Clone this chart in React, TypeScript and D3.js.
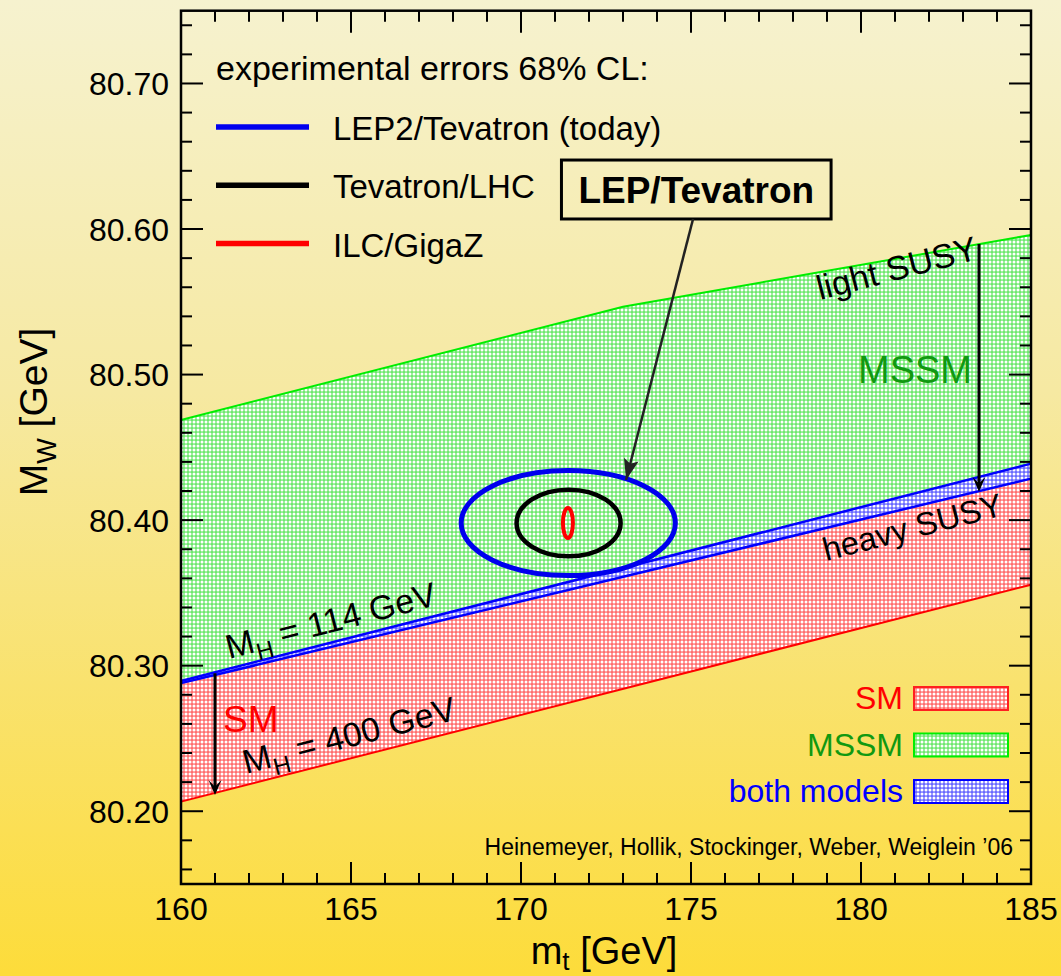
import React from 'react';
import * as d3 from 'd3';

// ---------- data ----------
const X_DOMAIN = [160, 185];
const Y_DOMAIN = [80.15, 80.75];
const X_MAJOR = [160, 165, 170, 175, 180, 185];
const X_MINOR = [161, 162, 163, 164, 166, 167, 168, 169, 171, 172, 173, 174, 176, 177, 178, 179, 181, 182, 183, 184];
const Y_MAJOR = [80.2, 80.3, 80.4, 80.5, 80.6, 80.7];
const Y_MINOR = [80.16, 80.18, 80.22, 80.24, 80.26, 80.28, 80.32, 80.34, 80.36, 80.38, 80.42, 80.44, 80.46, 80.48, 80.52, 80.54, 80.56, 80.58, 80.62, 80.64, 80.66, 80.68, 80.72, 80.74];

// band boundaries (m_t in GeV, M_W in GeV)
const BAND_MT = [160, 185];
const SM_LOW_MW = [80.2066, 80.3556];   // SM, M_H = 400 GeV
const SM_HIGH_MW = [80.2895, 80.4388];  // SM, M_H = 114 GeV
const MSSM_LOW_MW = [80.2880, 80.4285]; // MSSM, heavy SUSY
const MSSM_HIGH_MT = [160, 173, 185];
const MSSM_HIGH_MW = [80.4688, 80.5466, 80.5959]; // MSSM, light SUSY

// experimental 68% CL ellipses
const ELL_NAMES = ['LEP2/Tevatron (today)', 'Tevatron/LHC', 'ILC/GigaZ'];
const ELL_CENTER_MT = [171.39, 171.40, 171.38];
const ELL_CENTER_MW = [80.398, 80.398, 80.398];
const ELL_SIGMA_MT = [3.15, 1.53, 0.147];
const ELL_SIGMA_MW = [0.0361, 0.0229, 0.0103];
const ELL_COLORS = ['#0000ee', '#000000', '#ff0000'];
const ELL_WIDTHS = [5, 4.5, 4];

const MODEL_NAMES = ['SM', 'MSSM', 'both models'];
const MODEL_TEXT_COLORS = ['#ff0000', '#119911', '#0000ff'];
const MODEL_EDGE_COLORS = ['#ff2020', '#00ee00', '#0000ff'];
const MODEL_PATTERNS = ['pRed', 'pGreen', 'pBlue'];

const FONT = "'Liberation Sans', Arial, Helvetica, sans-serif";

type P = [number, number];

export default function App() {
  const x = d3.scaleLinear().domain(X_DOMAIN).range([181, 1031]);
  const y = d3.scaleLinear().domain(Y_DOMAIN).range([884, 10.7]);
  const line = d3.line<P>().x(d => x(d[0])).y(d => y(d[1]));

  const pts = (mt: number[], mw: number[]): P[] => mt.map((m, i) => [m, mw[i]] as P);
  const smLow = pts(BAND_MT, SM_LOW_MW);
  const smHigh = pts(BAND_MT, SM_HIGH_MW);
  const mssmLow = pts(BAND_MT, MSSM_LOW_MW);
  const mssmHigh = pts(MSSM_HIGH_MT, MSSM_HIGH_MW);

  const poly = (top: P[], bottom: P[]) => line([...top, ...bottom.slice().reverse()]) + 'Z';

  const x0 = x(X_DOMAIN[0]), x1 = x(X_DOMAIN[1]);
  const yTop = y(Y_DOMAIN[1]), yBot = y(Y_DOMAIN[0]);

  const arrowHead = (fx: number, fy: number, tx: number, ty: number, len: number, half: number, notch: number, color: string) => {
    const a = Math.atan2(ty - fy, tx - fx);
    const ux = Math.cos(a), uy = Math.sin(a);
    const px = -uy, py = ux;
    const bx = tx - ux * len, by = ty - uy * len;
    const nx = tx - ux * len * notch, ny = ty - uy * len * notch;
    const d = `M${tx},${ty}L${bx + px * half},${by + py * half}L${nx},${ny}L${bx - px * half},${by - py * half}Z`;
    return <path d={d} fill={color} />;
  };

  // annotation anchors (data coordinates)
  const lepFrom: P = [175.06, 80.6069];
  const lepTo: P = [173.09, 80.4276];
  const susyFrom: P = [183.47, 80.5897];
  const susyTo: P = [183.47, 80.4195];
  const smFrom: P = [161.0, 80.2948];
  const smTo: P = [161.0, 80.2112];

  const rot = -14.5;

  return (
    <div style={{ position: 'absolute', left: 0, top: 0 }}>
      <svg width={1061} height={976} style={{ display: 'block' }} fontFamily={FONT}>
        <defs>
          <linearGradient id="bg" x1="0" y1="0" x2="0" y2="1">
            <stop offset="0" stopColor="#f6f2cf" />
            <stop offset="0.4" stopColor="#f6e9a2" />
            <stop offset="0.7" stopColor="#f9e26e" />
            <stop offset="1" stopColor="#fddc3a" />
          </linearGradient>
          <pattern id="pGreen" width="4" height="4" patternUnits="userSpaceOnUse">
            <rect width="4" height="4" fill="rgb(110,232,110)" />
            <circle cx="2" cy="2" r="1.5" fill="#ffffff" />
          </pattern>
          <pattern id="pRed" width="4" height="4" patternUnits="userSpaceOnUse">
            <rect width="4" height="4" fill="rgb(255,110,110)" />
            <circle cx="2" cy="2" r="1.5" fill="#ffffff" />
          </pattern>
          <pattern id="pBlue" width="4" height="4" patternUnits="userSpaceOnUse">
            <rect width="4" height="4" fill="rgb(105,105,255)" />
            <circle cx="2" cy="2" r="1.5" fill="#ffffff" />
          </pattern>
        </defs>
        <rect x={0} y={0} width={1061} height={976} fill="url(#bg)" />

        {/* bands */}
        <path d={poly(mssmLow, smLow)} fill="url(#pRed)" />
        <path d={poly(mssmHigh, smHigh)} fill="url(#pGreen)" />
        <path d={poly(smHigh, mssmLow)} fill="url(#pBlue)" />
        <path d={line(smLow)!} fill="none" stroke="#ff0000" strokeWidth={2} />
        <path d={line(mssmHigh)!} fill="none" stroke="#00ee00" strokeWidth={2} />
        <path d={line(mssmLow)!} fill="none" stroke="#0000ff" strokeWidth={2.5} />
        <path d={line(smHigh)!} fill="none" stroke="#0000ff" strokeWidth={2.5} />

        {/* ellipses */}
        {ELL_NAMES.map((n, i) => (
          <ellipse key={n}
            cx={x(ELL_CENTER_MT[i])} cy={y(ELL_CENTER_MW[i])}
            rx={x(ELL_CENTER_MT[i] + ELL_SIGMA_MT[i]) - x(ELL_CENTER_MT[i])}
            ry={y(ELL_CENTER_MW[i]) - y(ELL_CENTER_MW[i] + ELL_SIGMA_MW[i])}
            fill="none" stroke={ELL_COLORS[i]} strokeWidth={ELL_WIDTHS[i]} />
        ))}

        {/* experimental legend */}
        <text x={216} y={80} fontSize={34} fill="#000">experimental errors 68% CL:</text>
        {ELL_NAMES.map((n, i) => (
          <g key={n}>
            <line x1={216} x2={309} y1={127 + i * 58.3} y2={127 + i * 58.3} stroke={ELL_COLORS[i]} strokeWidth={5.5} />
            <text x={333} y={140 + i * 58.3} fontSize={33} fill="#000">{n}</text>
          </g>
        ))}

        {/* LEP/Tevatron box + arrow */}
        <rect x={x(171.19)} y={y(80.6474)} width={x(179.12) - x(171.19)} height={y(80.6069) - y(80.6474)}
          fill="none" stroke="#000" strokeWidth={3} />
        <text x={(x(171.19) + x(179.12)) / 2} y={203} fontSize={37} fontWeight="bold" textAnchor="middle" fill="#000">LEP/Tevatron</text>
        <line x1={x(lepFrom[0])} y1={y(lepFrom[1])} x2={x(lepTo[0])} y2={y(lepTo[1])} stroke="#222" strokeWidth={2.5} />
        {arrowHead(x(lepFrom[0]), y(lepFrom[1]), x(lepTo[0]), y(lepTo[1]), 21, 7.5, 0.8, '#222')}

        {/* SUSY arrow */}
        <line x1={x(susyFrom[0])} y1={y(susyFrom[1])} x2={x(susyTo[0])} y2={y(susyTo[1]) - 4} stroke="#000" strokeWidth={3} />
        {arrowHead(x(susyFrom[0]), y(susyFrom[1]), x(susyTo[0]), y(susyTo[1]), 15, 6.5, 0.55, '#000')}
        {/* SM arrow */}
        <line x1={x(smFrom[0])} y1={y(smFrom[1])} x2={x(smTo[0])} y2={y(smTo[1]) - 4} stroke="#000" strokeWidth={3} />
        {arrowHead(x(smFrom[0]), y(smFrom[1]), x(smTo[0]), y(smTo[1]), 15, 6.5, 0.55, '#000')}

        {/* band labels */}
        <text transform={`translate(820,300) rotate(${rot})`} fontSize={34} fill="#000">light SUSY</text>
        <text transform={`translate(826,561) rotate(${rot})`} fontSize={32.5} fill="#000">heavy SUSY</text>
        <text x={858} y={383} fontSize={38} fill="#119911">MSSM</text>
        <text x={223} y={732} fontSize={37} fill="#ff0000">SM</text>
        <text transform={`translate(229,659) rotate(${rot})`} fontSize={34} fill="#000">
          <tspan>M</tspan><tspan dy={9} fontSize={24}>H</tspan><tspan dy={-9}> = 114 GeV</tspan>
        </text>
        <text transform={`translate(246,774) rotate(${rot})`} fontSize={34} fill="#000">
          <tspan>M</tspan><tspan dy={9} fontSize={24}>H</tspan><tspan dy={-9}> = 400 GeV</tspan>
        </text>

        {/* model legend */}
        {MODEL_NAMES.map((n, i) => (
          <g key={n}>
            <text x={903} y={709 + i * 46.5} fontSize={32} textAnchor="end" fill={MODEL_TEXT_COLORS[i]}>{n}</text>
            <rect x={914} y={687 + i * 46.5} width={94} height={23} fill={`url(#${MODEL_PATTERNS[i]})`}
              stroke={MODEL_EDGE_COLORS[i]} strokeWidth={2} />
          </g>
        ))}
        <text x={1013} y={855} fontSize={23} textAnchor="end" fill="#000">Heinemeyer, Hollik, Stockinger, Weber, Weiglein ’06</text>

        {/* ticks */}
        {X_MAJOR.map(v => (
          <g key={'xM' + v}>
            <line x1={x(v)} x2={x(v)} y1={yBot} y2={yBot - 22} stroke="#000" strokeWidth={2} />
            <line x1={x(v)} x2={x(v)} y1={yTop} y2={yTop + 22} stroke="#000" strokeWidth={2} />
            <text x={x(v)} y={920} fontSize={32} textAnchor="middle" fill="#000">{v}</text>
          </g>
        ))}
        {X_MINOR.map(v => (
          <g key={'xm' + v}>
            <line x1={x(v)} x2={x(v)} y1={yBot} y2={yBot - 11} stroke="#000" strokeWidth={2} />
            <line x1={x(v)} x2={x(v)} y1={yTop} y2={yTop + 11} stroke="#000" strokeWidth={2} />
          </g>
        ))}
        {Y_MAJOR.map(v => (
          <g key={'yM' + v}>
            <line x1={x0} x2={x0 + 22} y1={y(v)} y2={y(v)} stroke="#000" strokeWidth={2} />
            <line x1={x1} x2={x1 - 22} y1={y(v)} y2={y(v)} stroke="#000" strokeWidth={2} />
            <text x={169} y={y(v) + 11.5} fontSize={32} textAnchor="end" fill="#000">{d3.format('.2f')(v)}</text>
          </g>
        ))}
        {Y_MINOR.map(v => (
          <g key={'ym' + v}>
            <line x1={x0} x2={x0 + 11} y1={y(v)} y2={y(v)} stroke="#000" strokeWidth={2} />
            <line x1={x1} x2={x1 - 11} y1={y(v)} y2={y(v)} stroke="#000" strokeWidth={2} />
          </g>
        ))}
        <rect x={x0} y={yTop} width={x1 - x0} height={yBot - yTop} fill="none" stroke="#000" strokeWidth={2.5} />

        {/* axis titles */}
        <text x={604} y={964} fontSize={38} textAnchor="middle" fill="#000">
          <tspan>m</tspan><tspan dy={6} fontSize={26}>t</tspan><tspan dy={-6}> [GeV]</tspan>
        </text>
        <text transform="translate(47,412) rotate(-90)" fontSize={39} textAnchor="middle" fill="#000">
          <tspan>M</tspan><tspan dy={9} fontSize={27}>W</tspan><tspan dy={-9}> [GeV]</tspan>
        </text>
      </svg>
    </div>
  );
}
